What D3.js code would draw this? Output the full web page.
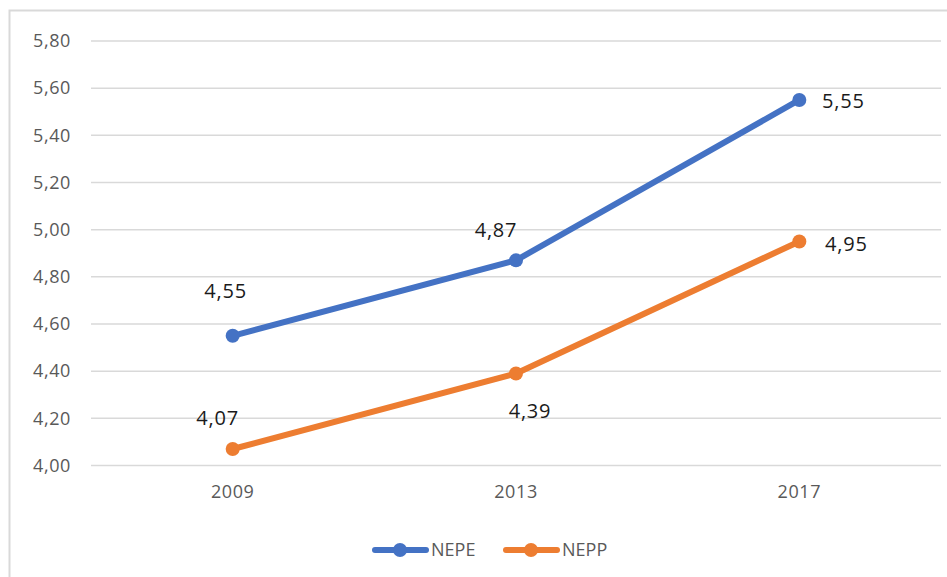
<!DOCTYPE html>
<meta charset="utf-8">
<head>
	<script src="https://d3js.org/d3.v7.min.js"></script>
	<style>
		body { margin: 0; background: #fff; }
		text { font-family: "Open Sans", "Liberation Sans", sans-serif; }
	</style>
</head>
<body>
<div id="chart"></div>
<script>
	'use strict';
	// chart data
	var years = ['2009', '2013', '2017'];
	var seriesNames = ['NEPE', 'NEPP'];
	var nepe = [4.55, 4.87, 5.55];
	var nepp = [4.07, 4.39, 4.95];
	var yTicks = [4.0, 4.2, 4.4, 4.6, 4.8, 5.0, 5.2, 5.4, 5.6, 5.8];

	var colors = ['#4472C4', '#ED7D31'];
	// label offsets (dx, dy) from each point, as placed in the original
	var labelOffsets = [
		[[-7, -45], [-20, -30], [44, 1]],
		[[-15, -31], [14, 37], [47, 3]]
	];

	var width = 947, height = 577;
	var margin = { top: 41, left: 91, right: 6, bottom: 111 };

	var svg = d3.select('#chart').append('svg')
		.attr('width', width)
		.attr('height', height);

	// outer frame (only top and left are visible in the picture)
	svg.append('path')
		.attr('d', 'M9.5,' + height + 'V10.5H' + width)
		.attr('fill', 'none')
		.attr('stroke', '#d9d9d9')
		.attr('stroke-width', 2);

	var g = svg.append('g');

	var x = d3.scaleBand()
		.domain(years)
		.range([margin.left, width - margin.right]);

	var y = d3.scaleLinear()
		.domain([4.0, 5.8])
		.range([height - margin.bottom - 0.5, margin.top]);

	var fmt = function (d) { return d3.format('.2f')(d).replace('.', ','); };

	// gridlines
	g.selectAll('.grid')
		.data(yTicks)
		.enter().append('line')
		.attr('class', 'grid')
		.attr('x1', margin.left)
		.attr('x2', width - margin.right)
		.attr('y1', function (d) { return y(d); })
		.attr('y2', function (d) { return y(d); })
		.attr('stroke', '#d9d9d9')
		.attr('stroke-width', 1.5);

	// y axis labels
	var yAxis = d3.axisLeft(y).tickValues(yTicks).tickFormat(fmt).tickSize(0).tickPadding(20);
	g.append('g')
		.attr('transform', 'translate(' + margin.left + ',0)')
		.call(yAxis)
		.call(function (s) { s.select('.domain').remove(); })
		.selectAll('text')
		.attr('fill', '#595959')
		.style('font-size', '18px')
		.style('letter-spacing', '0.6px');

	// x axis labels
	var xAxis = d3.axisBottom(x).tickSize(0).tickPadding(20);
	g.append('g')
		.attr('transform', 'translate(0,' + y(4.0) + ')')
		.call(xAxis)
		.call(function (s) { s.select('.domain').remove(); })
		.selectAll('text')
		.attr('fill', '#595959')
		.style('font-size', '18px')
		.style('letter-spacing', '0.6px');

	var cx = function (i) { return x(years[i]) + x.bandwidth() / 2; };
	var line = d3.line()
		.x(function (d, i) { return cx(i); })
		.y(function (d) { return y(d); });

	[nepe, nepp].forEach(function (values, s) {
		g.append('path')
			.datum(values)
			.attr('d', line)
			.attr('fill', 'none')
			.attr('stroke', colors[s])
			.attr('stroke-width', 6)
			.attr('stroke-linecap', 'round')
			.attr('stroke-linejoin', 'round');

		g.selectAll('.dot' + s)
			.data(values)
			.enter().append('circle')
			.attr('cx', function (d, i) { return cx(i); })
			.attr('cy', function (d) { return y(d); })
			.attr('r', 7)
			.attr('fill', colors[s]);

		g.selectAll('.lbl' + s)
			.data(values)
			.enter().append('text')
			.attr('x', function (d, i) { return cx(i) + labelOffsets[s][i][0]; })
			.attr('y', function (d, i) { return y(d) + labelOffsets[s][i][1]; })
			.attr('dy', '0.35em')
			.attr('text-anchor', 'middle')
			.attr('fill', '#1a1a1a')
			.style('font-size', '20px')
			.style('letter-spacing', '0.8px')
			.text(fmt);
	});

	// legend
	var legend = svg.append('g').attr('transform', 'translate(372,550)');
	var legendX = [0, 131];
	seriesNames.forEach(function (name, s) {
		var lg = legend.append('g').attr('transform', 'translate(' + legendX[s] + ',0)');
		lg.append('line')
			.attr('x1', 3).attr('x2', 54)
			.attr('stroke', colors[s])
			.attr('stroke-width', 6)
			.attr('stroke-linecap', 'round');
		lg.append('circle')
			.attr('cx', 28).attr('r', 7)
			.attr('fill', colors[s]);
		lg.append('text')
			.attr('x', 59)
			.attr('dy', '0.35em')
			.attr('fill', '#595959')
			.style('font-size', '18px')
			.text(name);
	});
</script>
</body>
